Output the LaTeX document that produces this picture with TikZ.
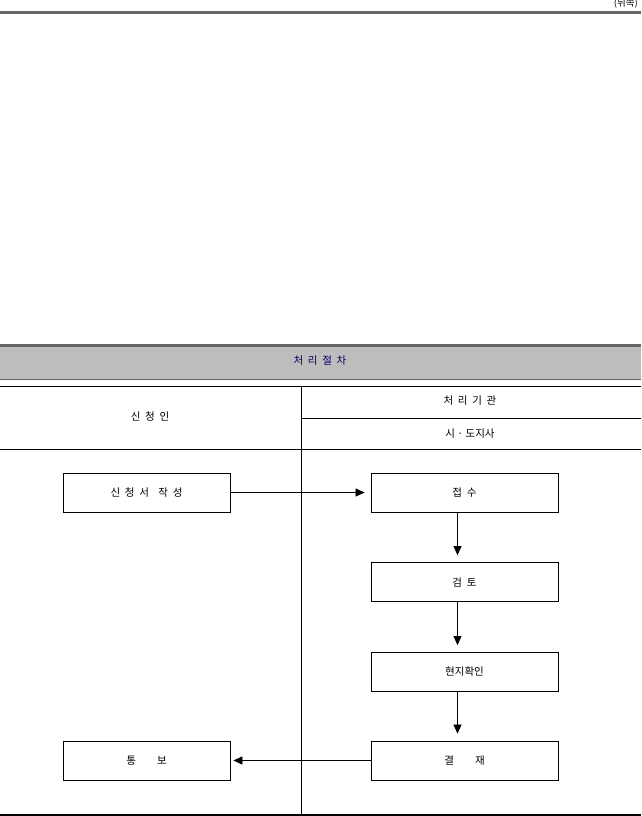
\documentclass[tikz,border=0pt]{standalone}
\usepackage{fontspec}
\setmainfont{Noto Sans CJK KR}
\usetikzlibrary{arrows.meta}
\begin{document}
\begin{tikzpicture}[x=1pt,y=-1pt,
  box/.style={draw,line width=0.8pt,minimum width=167pt,minimum height=39pt,inner sep=0pt,font=\fontsize{10.5}{12}\selectfont},
  rbox/.style={box,minimum width=187pt},
  lbl/.style={font=\fontsize{10.5}{12}\selectfont,inner sep=0pt},
  arr/.style={line width=0.7pt,-{Triangle[length=9pt,width=8pt]}}]
\useasboundingbox (0,0) rectangle (641,816);
\draw[line width=3pt,black!60] (0,13) -- (641,13);
\node[lbl,anchor=east,font=\fontsize{9.5}{10}\selectfont] (back) at (638,4) {(뒤쪽)};
\fill[black!26] (0,345) rectangle (641,379);
\draw[line width=3pt,black!60] (0,345.5) -- (641,345.5);
\draw[line width=1pt,black!60] (0,379) -- (641,379);
\node[lbl,text=blue!40!black] (title) at (320,361) {처\ \ 리\ \ 절\ \ 차};
\draw[line width=0.9pt] (0,386) -- (641,386);
\draw[line width=0.9pt] (301,386) -- (301,816);
\draw[line width=0.9pt] (301,418) -- (641,418);
\draw[line width=0.9pt] (0,449) -- (641,449);
\draw[line width=1.2pt] (0,815) -- (641,815);
\node[lbl] (h1) at (150,417) {신\ \ 청\ \ 인};
\node[lbl] (h2) at (470,401) {처\ \ 리\ \ 기\ \ 관};
\node[lbl] (h3) at (470,434) {시 · 도지사};
\node[box] (a) at (146.5,492.5) {신\ \ 청\ \ 서\ \ \ \ 작\ \ 성};
\node[rbox] (b) at (464.5,492.5) {접\ \ 수};
\node[rbox] (c) at (464.5,582) {검\ \ 토};
\node[rbox] (d) at (464.5,672) {현지확인};
\node[rbox] (e) at (464.5,760.5) {결\qquad 재};
\node[box] (f) at (146.5,760.5) {통\qquad 보};
\draw[arr] (a.east) -- ([xshift=-6pt]b.west);
\draw[arr] ([xshift=-7pt]b.south) -- ([xshift=-7pt,yshift=7pt]c.north);
\draw[arr] ([xshift=-7pt]c.south) -- ([xshift=-7pt,yshift=7pt]d.north);
\draw[arr] ([xshift=-7pt]d.south) -- ([xshift=-7pt,yshift=7pt]e.north);
\draw[arr] (e.west) -- ([xshift=3pt]f.east);
\end{tikzpicture}
\end{document}
